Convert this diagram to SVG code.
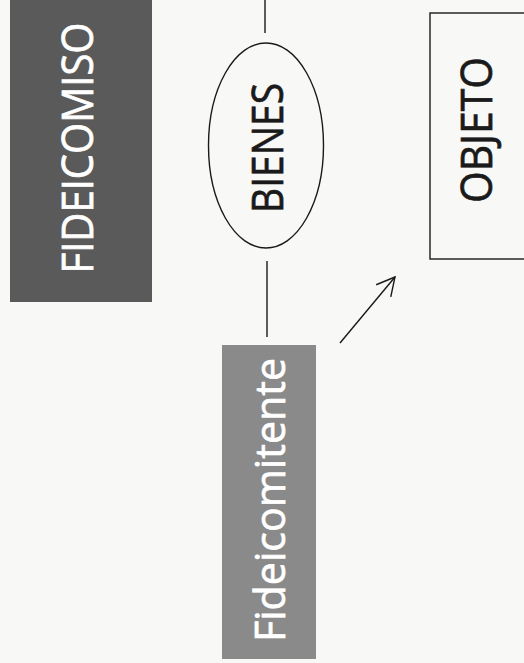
<svg xmlns="http://www.w3.org/2000/svg" width="524" height="663" viewBox="0 0 524 663">
  <style>
    .lbl { font-family: "Open Sans", "Liberation Sans", "DejaVu Sans", sans-serif; text-anchor: middle; stroke-width: 0.7; }
    .w { fill: #ffffff; stroke: #ffffff; }
    .k { fill: #1a1a1a; stroke: #1a1a1a; }
    .ln { stroke: #1a1a1a; stroke-width: 1.4; fill: none; }
  </style>
  <defs>
    <marker id="open" markerWidth="24" markerHeight="24" refX="19" refY="10.5" orient="auto" markerUnits="userSpaceOnUse">
      <path d="M1,1 L19,10.5 L1,20" fill="none" stroke="#1a1a1a" stroke-width="1.4"/>
    </marker>
  </defs>
  <rect x="0" y="0" width="524" height="663" fill="#f8f8f6"/>

  <g id="fideicomiso">
    <rect x="10" y="0" width="142" height="302" fill="#5a5a5a"/>
    <text class="lbl w" transform="translate(93,148) rotate(-90)" font-size="43" textLength="251" lengthAdjust="spacingAndGlyphs">FIDEICOMISO</text>
  </g>

  <g id="bienes">
    <ellipse cx="266" cy="145.5" rx="57.5" ry="102.5" fill="none" stroke="#1a1a1a" stroke-width="1.4"/>
    <text class="lbl k" transform="translate(283,148) rotate(-90)" font-size="44" textLength="130" lengthAdjust="spacingAndGlyphs">BIENES</text>
  </g>

  <g id="objeto">
    <rect x="430" y="13" width="100" height="246" fill="none" stroke="#1a1a1a" stroke-width="1.4"/>
    <text class="lbl k" transform="translate(492,130) rotate(-90)" font-size="44" textLength="146" lengthAdjust="spacingAndGlyphs">OBJETO</text>
  </g>

  <g id="fideicomitente">
    <rect x="222" y="345" width="94" height="314" fill="#8a8a8a"/>
    <text class="lbl w" transform="translate(285,500) rotate(-90)" font-size="42" textLength="284" lengthAdjust="spacingAndGlyphs">Fideicomitente</text>
  </g>

  <g id="connectors">
    <line class="ln" x1="265" y1="0" x2="265" y2="33"/>
    <line class="ln" x1="267" y1="261" x2="267" y2="337"/>
    <line class="ln" x1="340" y1="343" x2="395" y2="277" marker-end="url(#open)"/>
  </g>
</svg>
